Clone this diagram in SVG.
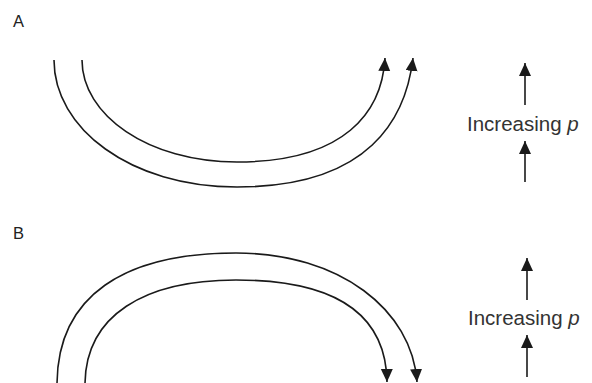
<svg xmlns="http://www.w3.org/2000/svg" width="592" height="383" viewBox="0 0 592 383">
<defs>
<style>
.c{fill:none;stroke:#1a1a1a;stroke-width:1.6}
.lbl{font-family:"Liberation Sans",Arial,sans-serif;fill:#222}
.panel{font-size:16.5px}
.inc{font-size:20.5px;fill:#333}
</style>
<marker id="ah" markerUnits="userSpaceOnUse" markerWidth="14" markerHeight="13" refX="13" refY="6" orient="auto">
<path d="M0,0 L13,6 L0,12 z" fill="#1a1a1a"/>
</marker>
</defs>
<g id="labelA"><text class="lbl panel" x="13" y="27">A</text></g>
<g id="labelB"><text class="lbl panel" x="13" y="239">B</text></g>
<g id="connectors">
<path id="A-outer" class="c" d="M54,60 C54,128 130,187 237,187 C370,187 406,118 413,58" marker-end="url(#ah)"/>
<path id="A-inner" class="c" d="M82,60 C82,115 148,162 237,162 C345,162 382,112 385,58" marker-end="url(#ah)"/>
<path id="B-outer" class="c" d="M57,385 C57,295 125,253 236,253 C340,253 412,310 417,382" marker-end="url(#ah)"/>
<path id="B-inner" class="c" d="M85,385 C85,315 145,280 236,280 C330,280 386,310 387,382" marker-end="url(#ah)"/>
<line class="c" x1="525" y1="105" x2="525" y2="63" marker-end="url(#ah)"/>
<line class="c" x1="525" y1="182" x2="525" y2="141" marker-end="url(#ah)"/>
<line class="c" x1="527" y1="300" x2="527" y2="258" marker-end="url(#ah)"/>
<line class="c" x1="527" y1="377" x2="527" y2="335" marker-end="url(#ah)"/>
</g>
<g id="textA"><text class="lbl inc" x="467" y="131">Increasing <tspan font-style="italic">p</tspan></text></g>
<g id="textB"><text class="lbl inc" x="468" y="325">Increasing <tspan font-style="italic">p</tspan></text></g>
</svg>
